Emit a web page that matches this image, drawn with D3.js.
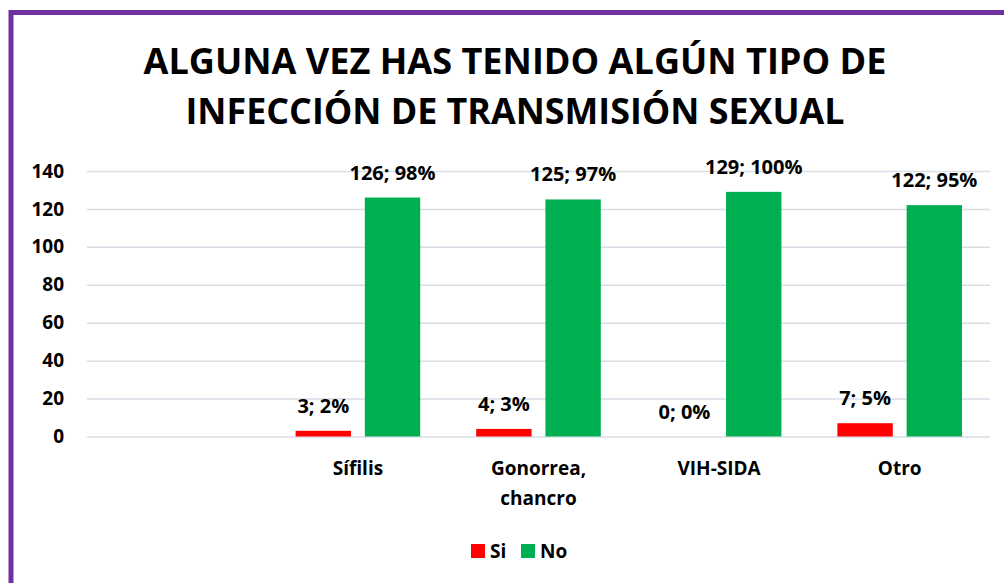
<!DOCTYPE html>
<html>
<head>
<meta charset="utf-8">
<script src="https://cdn.jsdelivr.net/npm/d3@7"></script>
<style>
  body { margin: 0; background: #fff; }
  svg { display: block; font-family: "Open Sans", "DejaVu Sans", sans-serif; font-weight: bold; }
</style>
</head>
<body>
<svg id="chart" width="1004" height="583"></svg>
<script>
// data
var categories = ["", "Sífilis", "Gonorrea, chancro", "VIH-SIDA", "Otro"];
var seriesNames = ["Si", "No"];
var siValues = [null, 3, 4, 0, 7];
var noValues = [null, 126, 125, 129, 122];
var siPct = [null, "2%", "3%", "0%", "5%"];
var noPct = [null, "98%", "97%", "100%", "95%"];
var yTicks = [0, 20, 40, 60, 80, 100, 120, 140];
var titleLines = ["ALGUNA VEZ HAS TENIDO ALGÚN TIPO DE", "INFECCIÓN DE TRANSMISIÓN SEXUAL"];

var colors = { "Si": "#ff0000", "No": "#00b050" };

var svg = d3.select("#chart");

// purple frame, runs off the right and bottom edges
svg.append("rect")
    .attr("x", 11).attr("y", 12.5)
    .attr("width", 1100).attr("height", 700)
    .attr("fill", "none")
    .attr("stroke", "#7030a0")
    .attr("stroke-width", 5);

// title
var titleWidths = [743, 659];
titleLines.forEach(function (t, i) {
    svg.append("text")
        .attr("x", 515).attr("y", 74 + i * 50)
        .attr("text-anchor", "middle")
        .attr("textLength", titleWidths[i])
        .attr("lengthAdjust", "spacingAndGlyphs")
        .style("font-size", "36px")
        .text(t);
});

var left = 87, right = 990;
var x0 = d3.scaleBand().domain(d3.range(categories.length)).range([left, right]).padding(0);
var x1 = d3.scaleBand().domain(seriesNames).range([28, x0.bandwidth() - 28]).paddingInner(0.2).paddingOuter(0);
var y = d3.scaleLinear().domain([0, 140]).range([436.5, 171]);

// gridlines
var grid = svg.append("g")
    .attr("transform", "translate(" + left + ",0)")
    .call(d3.axisLeft(y).tickValues(yTicks).tickSize(-(right - left)).tickFormat(""));
grid.select(".domain").remove();
grid.selectAll("line").attr("stroke", "#d9dde6").attr("stroke-width", 1.5);

// y axis labels
var yAxis = svg.append("g")
    .attr("transform", "translate(" + left + ",0)")
    .call(d3.axisLeft(y).tickValues(yTicks).tickSize(0).tickPadding(23));
yAxis.select(".domain").remove();
yAxis.selectAll("text")
    .style("font-size", "19px")
    .style("font-family", "Open Sans")
    .style("font-weight", "bold")
    .attr("fill", "#000");

// bars
var rows = categories.map(function (c, i) {
    return { i: i, vals: [
        { s: "Si", v: siValues[i], p: siPct[i] },
        { s: "No", v: noValues[i], p: noPct[i] }
    ] };
});

var groups = svg.selectAll("g.cat").data(rows).enter().append("g")
    .attr("class", "cat")
    .attr("transform", function (d) { return "translate(" + x0(d.i) + ",0)"; });

var cells = groups.selectAll("g.bar").data(function (d) {
    return d.vals.filter(function (v) { return v.v !== null; });
}).enter().append("g").attr("class", "bar");

cells.append("rect")
    .attr("x", function (d) { return x1(d.s); })
    .attr("width", x1.bandwidth())
    .attr("y", function (d) { return y(d.v); })
    .attr("height", function (d) { return y(0) - y(d.v); })
    .attr("fill", function (d) { return colors[d.s]; });

cells.append("text")
    .attr("x", function (d) { return x1(d.s) + x1.bandwidth() / 2; })
    .attr("y", function (d) { return y(d.v) - 18; })
    .attr("text-anchor", "middle")
    .style("font-size", "20px")
    .text(function (d) { return d.v + "; " + d.p; });

// category labels
categories.forEach(function (c, i) {
    var lines = c.indexOf(", ") > -1 ? [c.split(", ")[0] + ",", c.split(", ")[1]] : [c];
    lines.forEach(function (l, j) {
        svg.append("text")
            .attr("x", x0(i) + x0.bandwidth() / 2)
            .attr("y", 475 + j * 30)
            .attr("text-anchor", "middle")
            .style("font-size", "19px")
            .text(l);
    });
});

// legend
var legend = svg.append("g").attr("transform", "translate(471,544)");
var legendX = [0, 50];
seriesNames.forEach(function (s, i) {
    legend.append("rect")
        .attr("x", legendX[i]).attr("y", 0)
        .attr("width", 14).attr("height", 14)
        .attr("fill", colors[s]);
    legend.append("text")
        .attr("x", legendX[i] + 19).attr("y", 13.5)
        .style("font-size", "19px")
        .text(s);
});
</script>
</body>
</html>
